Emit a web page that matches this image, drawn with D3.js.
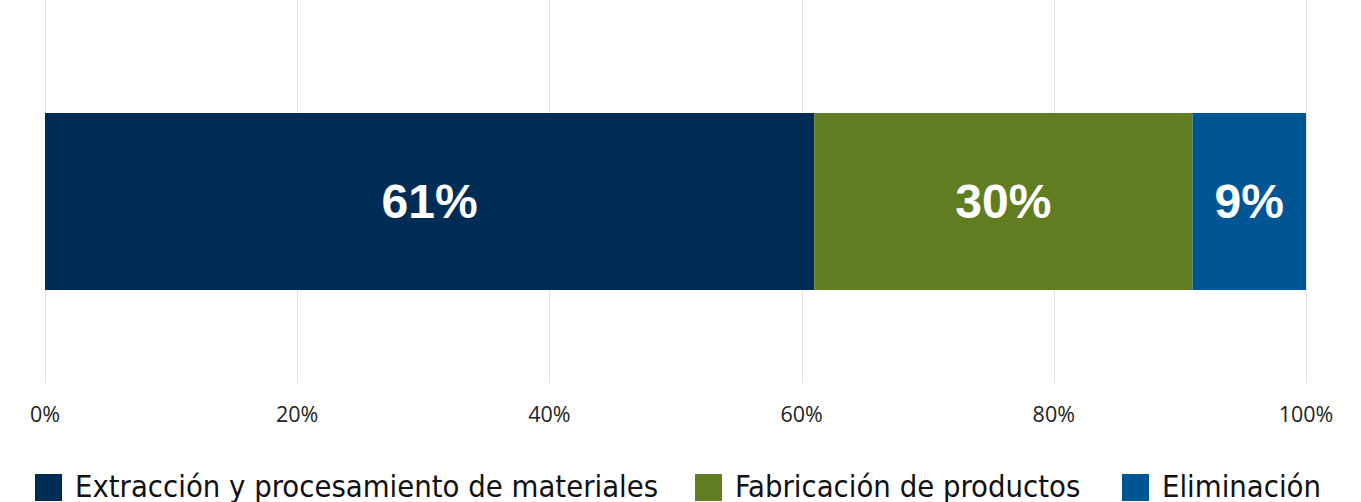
<!DOCTYPE html>
<meta charset="utf-8">
<style>
body { margin: 0; background: #fff; }
.grid line { stroke: #e3e3e3; stroke-width: 1; }
.tick-label { font-family: "Open Sans", "Liberation Sans", sans-serif; font-size: 21.5px; fill: #222; text-anchor: middle; }
.bar-label { font-family: "Liberation Sans", Arial, sans-serif; font-weight: bold; font-size: 48px; fill: #fff; text-anchor: middle; }
.legend-text { font-family: "Liberation Sans Narrow", "DejaVu Sans Condensed", sans-serif; font-size: 30.7px; fill: #111; }
</style>
<body>
<script src="https://d3js.org/d3.v7.min.js"></script>
<script>
var w = 1361, h = 502;

var categories = ["Extracción y procesamiento de materiales", "Fabricación de productos", "Eliminación"];
var values = [61, 30, 9];
var colors = ["#002d56", "#617d22", "#005595"];
var ticks = [0, 20, 40, 60, 80, 100];

var svg = d3.select("body").append("svg")
    .attr("width", w)
    .attr("height", h);

var x = d3.scaleLinear().domain([0, 100]).range([45, 1306]);

// gridlines
svg.append("g").attr("class", "grid")
    .selectAll("line")
    .data(ticks)
    .enter().append("line")
    .attr("x1", function(d){ return Math.round(x(d)) + 0.5; })
    .attr("x2", function(d){ return Math.round(x(d)) + 0.5; })
    .attr("y1", 0)
    .attr("y2", 383);

svg.append("g")
    .selectAll("text")
    .data(ticks)
    .enter().append("text")
    .attr("class", "tick-label")
    .attr("x", function(d){ return x(d); })
    .attr("y", 422)
    .text(function(d){ return d + "%"; });

// stacked bar
var starts = [];
var acc = 0;
values.forEach(function(v){ starts.push(acc); acc += v; });

var bars = svg.append("g");
bars.selectAll("rect")
    .data(values)
    .enter().append("rect")
    .attr("x", function(d, i){ return x(starts[i]); })
    .attr("width", function(d, i){ return x(starts[i] + d) - x(starts[i]); })
    .attr("y", 113)
    .attr("height", 177)
    .attr("fill", function(d, i){ return colors[i]; });

bars.selectAll("text")
    .data(values)
    .enter().append("text")
    .attr("class", "bar-label")
    .attr("x", function(d, i){ return x(starts[i] + d / 2); })
    .attr("y", 218)
    .text(function(d){ return d + "%"; });

// legend
var legendX = [35, 695, 1122];
var legend = svg.append("g");
categories.forEach(function(c, i){
    legend.append("rect")
        .attr("x", legendX[i])
        .attr("y", 474)
        .attr("width", 27)
        .attr("height", 27)
        .attr("fill", colors[i]);
    legend.append("text")
        .attr("class", "legend-text")
        .attr("x", legendX[i] + 40)
        .attr("y", 497)
        .text(c);
});
</script>
</body>
